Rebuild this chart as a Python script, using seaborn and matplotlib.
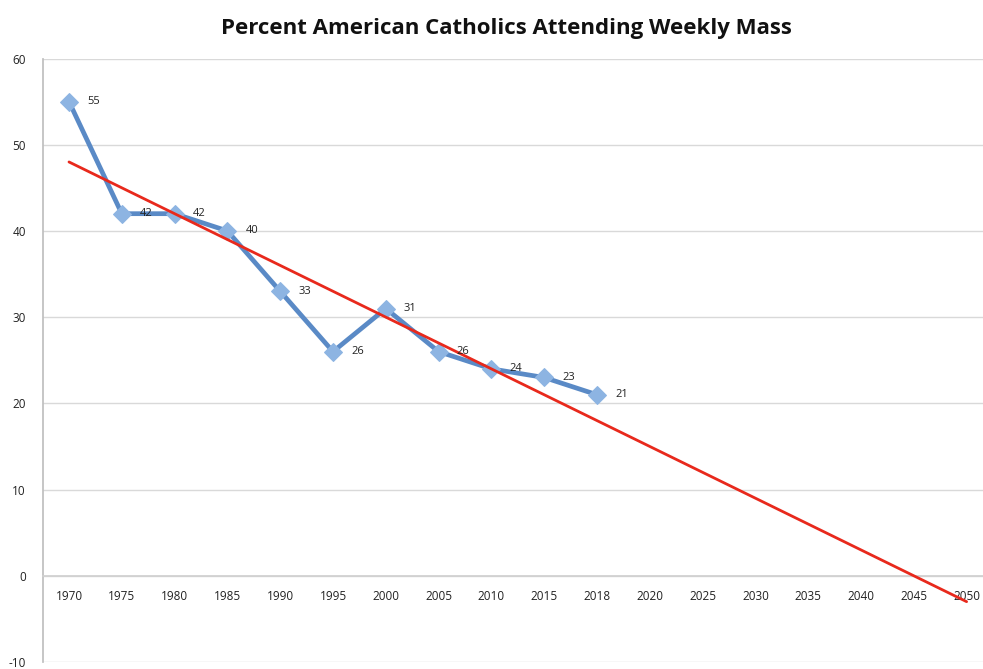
import numpy as np
import pandas as pd
import matplotlib
matplotlib.use("Agg")
import matplotlib.pyplot as plt
import seaborn as sns

categories = ["1970", "1975", "1980", "1985", "1990", "1995", "2000", "2005",
              "2010", "2015", "2018", "2020", "2025", "2030", "2035", "2040",
              "2045", "2050"]
data_years = ["1970", "1975", "1980", "1985", "1990", "1995", "2000", "2005",
              "2010", "2015", "2018"]
attendance = [55, 42, 42, 40, 33, 26, 31, 26, 24, 23, 21]

sns.set_theme(style="white")
plt.rcParams["font.family"] = ["Open Sans", "DejaVu Sans"]
plt.rcParams["axes.unicode_minus"] = False

fig = plt.figure(figsize=(9.83, 6.69), dpi=100)
ax = fig.add_axes([42.6 / 983, 1 - 662 / 669, 950.4 / 983, (662 - 58.5) / 669])

pos = [categories.index(y) for y in data_years]
df = pd.DataFrame({"pos": pos, "pct": attendance})

# Linear trendline (Excel-style, forecast forward to last category)
coef = np.polyfit(np.arange(1, len(attendance) + 1), attendance, 1)
tx = np.array([0, len(categories) - 1])
ty = np.polyval(coef, tx + 1)

sns.lineplot(data=df, x="pos", y="pct", ax=ax, color="#5A8AC6", linewidth=3.4,
             marker="D", markersize=9, markerfacecolor="#8DB4E2",
             markeredgecolor="#8DB4E2", zorder=3)
ax.plot(tx, ty, color="#E8291C", linewidth=2.0, zorder=4)

for p, v in zip(pos, attendance):
    ax.annotate(str(v), (p, v), xytext=(13, 0), textcoords="offset points",
                ha="left", va="center", fontsize=8, color="#222222", zorder=5)

ax.set_xlim(-0.5, len(categories) - 0.5)
ax.set_ylim(-10, 60)
ax.set_yticks(np.arange(-10, 61, 10))
ax.set_xticks(range(len(categories)))
ax.set_xticklabels(categories)
ax.set_xlabel("")
ax.set_ylabel("")

ax.grid(axis="y", color="#D9D9D9", linewidth=1.0)
ax.set_axisbelow(True)
for s in ["top", "right"]:
    ax.spines[s].set_visible(False)
ax.spines["left"].set_color("#BFBFBF")
ax.spines["bottom"].set_position(("data", 0))
ax.spines["bottom"].set_color("#D0D0D0")
ax.tick_params(axis="both", length=0, labelsize=8.5, colors="#222222")
ax.tick_params(axis="x", pad=10)
ax.tick_params(axis="y", pad=12)

fig.text(0.515, 0.958, "Percent American Catholics Attending Weekly Mass",
         ha="center", va="center", fontsize=16, fontweight="bold", color="#111111")

fig.savefig("out.png", dpi=100)
